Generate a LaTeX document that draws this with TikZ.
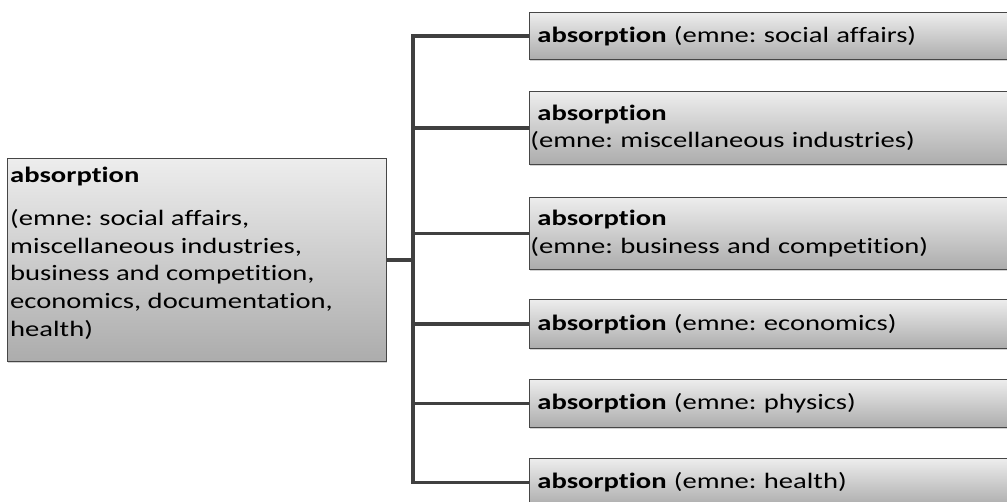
\documentclass[tikz,border=0pt]{standalone}
\usepackage{fontspec}
\setmainfont{Carlito}[FakeStretch=1.3, Ligatures=NoCommon]
\usetikzlibrary{shadows}
\frenchspacing
\begin{document}
\begin{tikzpicture}[x=1pt,y=-1pt,
  box/.style={rectangle, draw=gray!55!black, line width=0.8pt,
    top color=gray!14, bottom color=gray!65,
    drop shadow={shadow xshift=0.8pt, shadow yshift=-1.6pt, opacity=0.35},
    inner sep=0pt},
  leaf/.style={box, anchor=north west, minimum width=481pt,
    text width=473pt, inner xsep=8pt, align=left,
    font=\fontsize{22}{27.5}\selectfont},
  conn/.style={draw=black!75, line width=3.6pt}]
\useasboundingbox (0,0) rectangle (1007,501);

% root box with its list of subjects
\node[box, anchor=north west, minimum width=379pt, minimum height=203pt] (root) at (7,158) {};
\node[anchor=north west, inner sep=0pt, align=left,
      font=\fontsize{22}{27.6}\selectfont] (roottext) at (10,166.5)
  {\textbf{absorption}\\[16pt]
   (emne: social affairs,\\
   miscellaneous industries,\\
   business and competition,\\
   economics, documentation,\\
   health)};

% leaf boxes, one per subject
\node[leaf, minimum height=47pt] (b1) at (529,12)
  {\textbf{absorption} (emne: social affairs)};
\node[leaf, minimum height=73pt] (b2) at (529,91)
  {\textbf{absorption}\\\hspace*{-7pt}(emne: miscellaneous industries)};
\node[leaf, minimum height=72pt] (b3) at (529,197)
  {\textbf{absorption}\\\hspace*{-7pt}(emne: business and competition)};
\node[leaf, minimum height=49pt] (b4) at (529,299)
  {\textbf{absorption} (emne: economics)};
\node[leaf, minimum height=48pt] (b5) at (529,379)
  {\textbf{absorption} (emne: physics)};
\node[leaf, minimum height=48pt] (b6) at (529,458)
  {\textbf{absorption} (emne: health)};

% branching connector
\coordinate (split) at (413,0 |- root.east);
\draw[conn] (root.east) -- (split);
\foreach \b in {b1,b2,b3,b4,b5,b6}
  \draw[conn] (split) |- (\b.west);
\end{tikzpicture}
\end{document}
